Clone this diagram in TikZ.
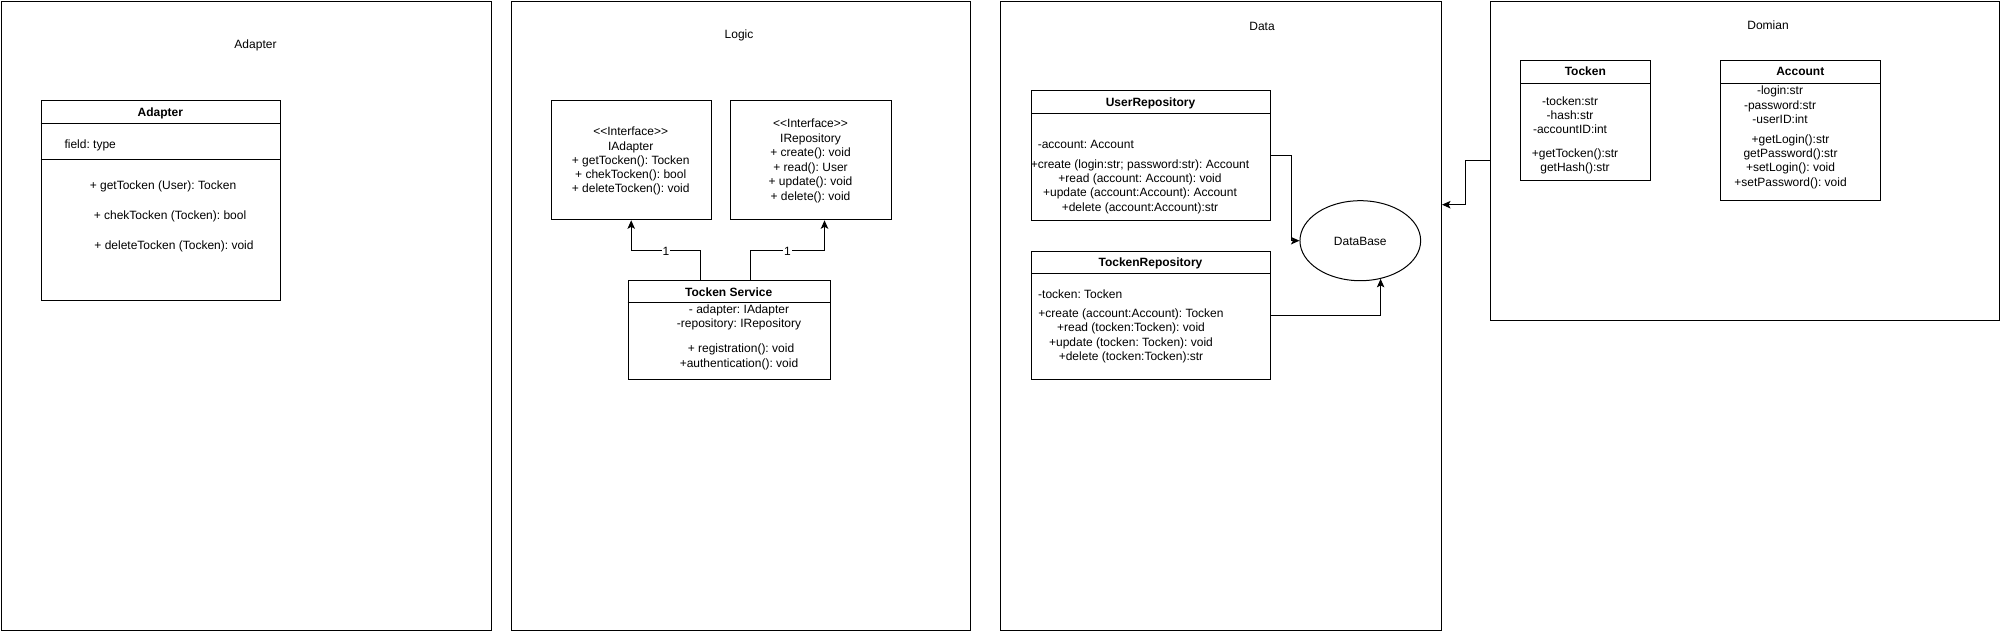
\documentclass[tikz,border=0pt]{standalone}
\usepackage{fontspec}
\setmainfont{Liberation Sans}
\frenchspacing
\usetikzlibrary{arrows.meta, positioning, shapes.geometric, calc}
\tikzstyle{panel}=[draw, line width=1pt, shape=rectangle, anchor=north west, inner sep=0pt]
\tikzstyle{cls}=[draw, line width=1pt, shape=rectangle, anchor=north west, inner sep=0pt]
\tikzstyle{txt}=[inner sep=0pt, text height=8.6pt, text depth=0pt, font=\fontsize{12}{14}\selectfont]
\tikzstyle{hd}=[txt, font=\fontsize{12}{14}\selectfont\bfseries]
\tikzstyle{lbl}=[txt, fill=white, inner sep=1pt]
\tikzset{>={Stealth[length=8.5pt,width=7.5pt,inset=2pt]}}

\begin{document}
\begin{tikzpicture}[x=1pt, y=-1pt, line width=1pt]
\useasboundingbox (0,0) rectangle (2001,631);
%
\node[panel, minimum width=490pt, minimum height=629.6pt] (adp) at (0.7,0.7) {};
\node[panel, minimum width=459.8pt, minimum height=629.6pt] (lgc) at (510.5,0.7) {};
\node[panel, minimum width=440.7pt, minimum height=629.6pt] (dat) at (1000.3,0.7) {};
\node[panel, minimum width=509pt, minimum height=319.6pt] (dom) at (1490.3,0.7) {};
\node[txt] (adp-t) at (255.5,44.3) {Adapter};
\node[txt] (lgc-t) at (739,34.5) {Logic};
\node[txt] (dat-t) at (1262,26) {Data};
\node[txt] (dom-t) at (1768,25.5) {Domian};
%
\node[cls, minimum width=239.8pt, minimum height=199.4pt] (ad) at (40.5,100.3) {};
\draw ([yshift=-23pt]ad.north west) -- ([yshift=-23pt]ad.north east);
\draw ([yshift=-59.7pt]ad.north west) -- ([yshift=-59.7pt]ad.north east);
\node[hd] (ad-h) at (160.4,112) {Adapter};
\node[txt, anchor=west] (ad-f) at (64,144) {field: type};
\node[txt] (ad-m1) at (163,185) {+ getTocken (User): Tocken};
\node[txt] (ad-m2) at (170,215) {+ chekTocken (Tocken): bool};
\node[txt] (ad-m3) at (174,245) {+ deleteTocken (Tocken): void};
%
\node[cls, minimum width=160pt, minimum height=119pt] (ia) at (550.7,100.3) {};
\foreach \t [count=\i from 0] in {{{<}{<}Interface{>}{>}}, IAdapter, {+ getTocken(): Tocken}, {+ chekTocken(): bool}, {+ deleteTocken(): void}}
\node[txt] (ia\i) at (630.7, 131.7+14.1*\i) {\t};
\node[cls, minimum width=160.4pt, minimum height=119pt] (ir) at (730.3,100.3) {};
\foreach \t [count=\i from 0] in {{{<}{<}Interface{>}{>}}, IRepository, {+ create(): void}, {+ read(): User}, {+ update(): void}, {+ delete(): void}}
\node[txt] (ir\i) at (810.5, 123.5+14.5*\i) {\t};
%
\node[cls, minimum width=202.5pt, minimum height=99.3pt] (ts) at (627.5,280) {};
\draw ([yshift=-22.7pt]ts.north west) -- ([yshift=-22.7pt]ts.north east);
\node[hd] (ts-h) at (728.7,291.7) {Tocken Service};
\node[txt] (ts1) at (739,308.7) {- adapter: IAdapter};
\node[txt] (ts2) at (739,322.7) {-repository: IRepository};
\node[txt] (ts3) at (741,347.7) {+ registration(): void};
\node[txt] (ts4) at (739,362.7) {+authentication(): void};
\draw[->] ([xshift=-28.7pt]ts.north) -- ++(0,-29.3) -| node[lbl, pos=0.25] (c1) {1} (ia.south);
\draw[->] ([xshift=21.3pt]ts.north) -- ++(0,-29.3) -| node[lbl, pos=0.25] (c2) {1} ([xshift=13.5pt]ir.south);
%
\node[cls, minimum width=239pt, minimum height=129.7pt] (ur) at (1031,90.3) {};
\draw ([yshift=-23pt]ur.north west) -- ([yshift=-23pt]ur.north east);
\node[hd] (ur-h) at (1150.5,102) {UserRepository};
\node[txt, anchor=west] (ur-a) at (1037.3,144.5) {-account: Account};
\foreach \t [count=\i from 0] in {{+create (login:str; password:str): Account}, {+read (account: Account): void}, {+update (account:Account): Account}, {+delete (account:Account):str}}
\node[txt] (ur\i) at (1140, 164+14.3*\i) {\t};
\node[cls, minimum width=239pt, minimum height=128.3pt] (tr) at (1031,250.7) {};
\draw ([yshift=-22.6pt]tr.north west) -- ([yshift=-22.6pt]tr.north east);
\node[hd] (tr-h) at (1150.5,262) {TockenRepository};
\node[txt, anchor=west] (tr-a) at (1037.7,294.3) {-tocken: Tocken};
\foreach \t [count=\i from 0] in {{+create (account:Account): Tocken}, {+read (tocken:Tocken): void}, {+update (tocken: Tocken): void}, {+delete (tocken:Tocken):str}}
\node[txt] (tr\i) at (1131, 313.3+14.3*\i) {\t};
\node[txt, draw, ellipse, minimum width=120.7pt, minimum height=80pt] (db) at (1360.3,240.7) {DataBase};
\draw[->] (ur.east) -- ++(20.3,0) |- (db.west);
\draw[->] (tr.east) -| (db.-62);
%
\node[cls, minimum width=130pt, minimum height=119.7pt] (tk) at (1520.3,60.3) {};
\draw ([yshift=-23pt]tk.north west) -- ([yshift=-23pt]tk.north east);
\node[hd] (tk-h) at (1585.3,71.7) {Tocken};
\foreach \t [count=\i from 0] in {{-tocken:str}, {-hash:str}, {-accountID:int}}
\node[txt] (tk\i) at (1570, 101+14.2*\i) {\t};
\foreach \t [count=\i from 0] in {{+getTocken():str}, {getHash():str}}
\node[txt] (tkm\i) at (1575, 153+14.3*\i) {\t};
\node[cls, minimum width=160pt, minimum height=140pt] (ac) at (1720.3,60.3) {};
\draw ([yshift=-23pt]ac.north west) -- ([yshift=-23pt]ac.north east);
\node[hd] (ac-h) at (1800.3,71.7) {Account};
\foreach \t [count=\i from 0] in {{-login:str}, {-password:str}, {-userID:int}}
\node[txt] (ac\i) at (1780, 90+14.8*\i) {\t};
\foreach \t [count=\i from 0] in {{+getLogin():str}, {getPassword():str}, {+setLogin(): void}, {+setPassword(): void}}
\node[txt] (acm\i) at (1790.5, 139+14.25*\i) {\t};
%
\coordinate (dlink) at (dat.east |- 0,204.7);
\draw[->] (dom.west) -- ++(-25,0) |- (dlink);
%
\end{tikzpicture}
\end{document}
